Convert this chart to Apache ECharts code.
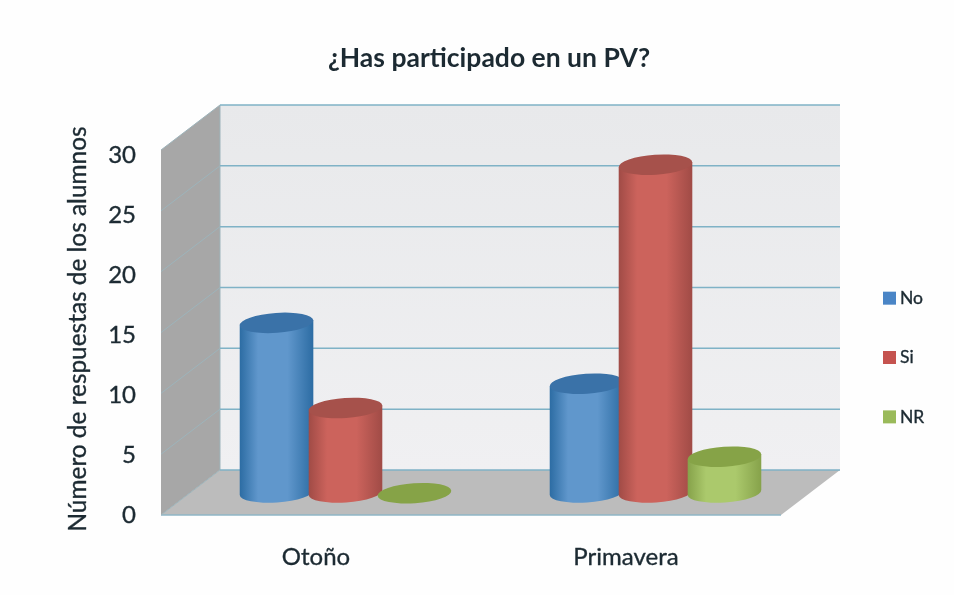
<!DOCTYPE html>
<html>
<head>
<meta charset="utf-8">
<style>html,body{margin:0;padding:0;background:#fefefe}#c{width:954px;height:595px}</style>
<script src="https://cdn.jsdelivr.net/npm/echarts@6/dist/echarts.min.js"></script>
</head>
<body>
<div id="c"></div>
<script>
const categories = ['Otoño', 'Primavera'];
const seriesNames = ['No', 'Si', 'NR'];
const valuesNo = [14, 9];
const valuesSi = [7, 27];
const valuesNR = [0, 3];
const yTicks = [0, 5, 10, 15, 20, 25, 30];
const titleText = '¿Has participado en un PV?';
const yAxisTitle = 'Número de respuestas de los alumnos';

const DEPTH_X = 59, DEPTH_Y = -45;
const FONT = 'Lato, "Open Sans", sans-serif';
const INK = '#1c2a32';
const heavy = { textBorderColor: INK, textBorderWidth: 0.35 };

function wallsItem(params, api) {
  const c = params.coordSys;
  const l = c.x, r = c.x + c.width, t = c.y, b = c.y + c.height;
  const poly = (pts, fill) => ({ type: 'polygon', shape: { points: pts }, style: { fill: fill, stroke: null }, silent: true });
  const wallFill = { type: 'linear', x: 0, y: 0, x2: 0, y2: 1, colorStops: [{ offset: 0, color: '#e8e9eb' }, { offset: 1, color: '#f0f0f2' }] };
  return { type: 'group', children: [
    poly([[l + DEPTH_X, t + DEPTH_Y], [r + DEPTH_X, t + DEPTH_Y], [r + DEPTH_X, b + DEPTH_Y], [l + DEPTH_X, b + DEPTH_Y]], wallFill),
    poly([[l, t], [l + DEPTH_X, t + DEPTH_Y], [l + DEPTH_X, b + DEPTH_Y], [l, b]], '#a7a7a7'),
    poly([[l, b], [l + DEPTH_X, b + DEPTH_Y], [r + DEPTH_X, b + DEPTH_Y], [r, b]], '#bcbcbc'),
    { type: 'line', shape: { x1: l, y1: b, x2: r, y2: b }, style: { stroke: '#8fb6c6', lineWidth: 1.5 } },
    { type: 'line', shape: { x1: l + DEPTH_X, y1: t + DEPTH_Y, x2: l + DEPTH_X, y2: b + DEPTH_Y }, style: { stroke: '#9db4bb', lineWidth: 1 } }
  ] };
}

function gridItem(params, api) {
  const c = params.coordSys;
  const p = api.coord([0, api.value(0)]);
  const y = p[1], l = c.x, r = c.x + c.width;
  return { type: 'group', children: [
    { type: 'line', shape: { x1: l, y1: y, x2: l + DEPTH_X, y2: y + DEPTH_Y }, style: { stroke: '#9db4bb', lineWidth: 1 } },
    { type: 'line', shape: { x1: l + DEPTH_X, y1: y + DEPTH_Y, x2: r + DEPTH_X, y2: y + DEPTH_Y }, style: { stroke: '#7fb2c6', lineWidth: 1.5 } }
  ] };
}

const palette = [
  { legend: '#4a85c6', edge: '#2c6ca3', mid: '#6097cc', top: '#3a72a8' },
  { legend: '#c5534f', edge: '#a04b46', mid: '#cc635c', top: '#a6514b' },
  { legend: '#9aba5a', edge: '#86a24a', mid: '#abc96c', top: '#86a347' }
];

function cylinder(seriesIndex) {
  return function (params, api) {
    const col = palette[seriesIndex];
    const band = api.size([1, 0])[0];
    const rx = band * 0.119, ry = 10;
    const step = band * 0.2225;
    const deg = -4;
    const tilt = -deg * Math.PI / 180;
    const base = api.coord([api.value(0), 0]);
    const top = api.coord([api.value(0), api.value(1)]);
    const cx = base[0] + (seriesIndex - 1) * step + DEPTH_X / 2;
    const by = base[1] + DEPTH_Y / 2, ty = top[1] + DEPTH_Y / 2 + 0.7;
    const dx = rx * Math.cos(tilt), dy = rx * Math.sin(tilt);
    const ellipse = (y) => 'M' + (cx - dx) + ' ' + (y + dy) +
      ' A' + rx + ' ' + ry + ' ' + deg + ' 1 1 ' + (cx + dx) + ' ' + (y - dy) +
      ' A' + rx + ' ' + ry + ' ' + deg + ' 1 1 ' + (cx - dx) + ' ' + (y + dy) + ' Z';
    const body = 'M' + (cx - dx) + ' ' + (ty + dy) + ' L' + (cx - dx) + ' ' + (by + dy) +
      ' A' + rx + ' ' + ry + ' ' + deg + ' 0 0 ' + (cx + dx) + ' ' + (by - dy) +
      ' L' + (cx + dx) + ' ' + (ty - dy) + ' Z';
    const children = [];
    if (api.value(1) > 0) {
      children.push({ type: 'path', shape: { pathData: body }, style: {
        fill: { type: 'linear', x: 0, y: 0, x2: 1, y2: 0, colorStops: [
          { offset: 0, color: col.edge }, { offset: 0.25, color: col.mid },
          { offset: 0.65, color: col.mid }, { offset: 1, color: col.edge } ] }
      } });
    }
    children.push({ type: 'path', shape: { pathData: ellipse(ty) }, style: { fill: col.top } });
    return { type: 'group', children: children };
  };
}

const rows = (vals) => vals.map((v, i) => [i, v]);

const chart = echarts.init(document.getElementById('c'), null, { renderer: 'canvas' });
chart.setOption({
  animation: false,
  backgroundColor: '#fefefe',
  title: { text: titleText, left: 484, top: 40, textAlign: 'center',
    textStyle: { fontFamily: FONT, fontSize: 26.5, fontWeight: 'bold', color: INK } },
  legend: { data: seriesNames, orient: 'vertical', left: 878, top: 284, itemWidth: 13, itemHeight: 13,
    itemGap: 41, icon: 'rect', itemStyle: { borderWidth: 0 },
    textStyle: { fontFamily: FONT, fontSize: 17.5, color: INK, padding: [3, 0, 0, -1], ...heavy } },
  grid: { left: 161, right: 173, top: 150, bottom: 80 },
  xAxis: { type: 'category', data: categories, axisLine: { show: false }, axisTick: { show: false },
    axisLabel: { fontFamily: FONT, fontSize: 24, color: INK, margin: 30, ...heavy } },
  yAxis: [
    { type: 'value', min: 0, max: 30, interval: 5, splitLine: { show: false }, axisLine: { show: false },
      axisTick: { show: false }, axisLabel: { show: false },
      name: yAxisTitle, nameLocation: 'middle', nameGap: 71, nameRotate: 90,
      nameTextStyle: { fontFamily: FONT, fontSize: 24.4, color: INK, padding: [0, 0, 0, 7], ...heavy } },
    { type: 'value', position: 'left', min: 0, max: 30.417, splitLine: { show: false }, axisLine: { show: false },
      axisTick: { show: false },
      axisLabel: { customValues: yTicks, fontFamily: FONT, fontSize: 24, color: INK, margin: 25, padding: [7, 0, 0, 0], ...heavy } }
  ],
  series: [
    { name: 'walls', type: 'custom', renderItem: wallsItem, data: [[0, 0]], encode: { x: 0, y: 1 }, silent: true, clip: false },
    { name: 'gridlines', type: 'custom', renderItem: gridItem, data: yTicks.map(v => [v]), encode: { y: 0 }, silent: true, clip: false },
    { name: seriesNames[0], type: 'custom', renderItem: cylinder(0), data: rows(valuesNo), encode: { x: 0, y: 1 }, itemStyle: { color: palette[0].legend }, clip: false },
    { name: seriesNames[1], type: 'custom', renderItem: cylinder(1), data: rows(valuesSi), encode: { x: 0, y: 1 }, itemStyle: { color: palette[1].legend }, clip: false },
    { name: seriesNames[2], type: 'custom', renderItem: cylinder(2), data: rows(valuesNR), encode: { x: 0, y: 1 }, itemStyle: { color: palette[2].legend }, clip: false }
  ]
});
</script>
</body>
</html>
